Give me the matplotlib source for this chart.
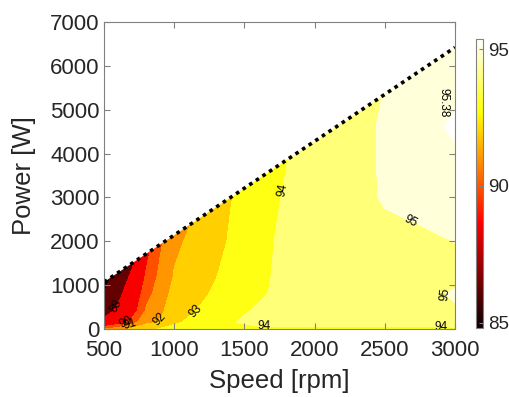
import numpy as np
import matplotlib.pyplot as plt
from matplotlib.patches import Polygon
from matplotlib.colors import Normalize
from matplotlib.cm import ScalarMappable

plt.rcParams['font.family'] = ['Liberation Sans', 'DejaVu Sans']

# grid (speed in rpm, power in W)
speed = [500, 600, 700, 800, 900, 1000, 1200, 1400, 1600, 1800, 2000, 2500, 3000]
power = [0, 150, 400, 800, 1200, 2000, 3000, 4000, 4600, 5200, 6500]

# efficiency [%], one list per speed, values along power
eff_by_speed = [
    [91.0, 88.4, 87.5, 86.6, 85.6, 85.0, 85.0, 85.0, 85.0, 85.0, 85.0],
    [91.5, 89.3, 88.3, 87.6, 87.3, 86.2, 85.5, 85.2, 85.0, 85.0, 85.0],
    [92.2, 90.5, 89.4, 88.9, 88.2, 87.2, 86.4, 85.8, 85.5, 85.3, 85.0],
    [92.6, 91.8, 91.15, 90.6, 90.15, 89.4, 88.5, 87.8, 87.4, 87.0, 86.5],
    [93.1, 92.1, 91.8, 91.5, 91.25, 90.8, 90.0, 89.4, 89.0, 88.7, 88.0],
    [93.3, 92.85, 92.55, 92.3, 92.05, 91.85, 91.2, 90.8, 90.5, 90.2, 89.6],
    [93.6, 93.4, 93.15, 92.85, 92.6, 92.3, 92.0, 91.7, 91.5, 91.3, 91.0],
    [93.7, 93.9, 93.7, 93.5, 93.35, 93.1, 92.95, 92.8, 92.7, 92.6, 92.4],
    [93.7, 94.4, 94.15, 93.85, 93.8, 93.75, 93.6, 93.5, 93.45, 93.4, 93.3],
    [93.7, 94.5, 94.4, 94.3, 94.25, 94.2, 94.1, 93.95, 93.9, 93.85, 93.8],
    [93.7, 94.6, 94.55, 94.5, 94.5, 94.5, 94.55, 94.65, 94.65, 94.65, 94.6],
    [93.7, 94.6, 94.65, 94.7, 94.75, 94.85, 95.05, 95.05, 95.05, 95.02, 94.95],
    [93.7, 94.7, 94.95, 95.05, 94.9, 95.005, 95.25, 95.33, 95.44, 95.33, 95.2],
]

# max power line
speed_limit = [500, 3000]
power_limit = [1070, 6420]

levels = [84.8, 86.5, 88, 90, 91, 92, 93, 94, 95, 95.38, 96]
band_colors = ['#0a0000', '#640000', '#f80000', '#ff5000', '#ff9600', '#ffcf00',
               '#ffff14', '#ffff78', '#ffffd9', '#ffffff']
label_levels = [88, 90, 91, 92, 93, 94, 95]
label_pos = [(593, 510), (650, 180), (690, 70), (900, 200), (1160, 365),
             (1754, 3170), (1640, 60), (2900, 60), (2660, 2300), (2904, 736)]
peak_label = '95.38'
peak_pos = (2915, 5150)

S, P = np.meshgrid(speed, power)
E = np.array(eff_by_speed).T

fig = plt.figure(figsize=(5.09, 3.97), dpi=100)
ax = fig.add_axes([0.2043, 0.1713, 0.6896, 0.7733])

cs = ax.contourf(S, P, E, levels=levels, colors=band_colors)
clip = Polygon([(speed_limit[0], 0), (speed_limit[0], power_limit[0]),
                (speed_limit[1], power_limit[1]), (speed_limit[1], 0)],
               closed=True, transform=ax.transData)
cs.set_clip_path(clip)

cl = ax.contour(S, P, E, levels=label_levels, colors='none')
ax.clabel(cl, manual=label_pos, colors='k', fontsize=8.5,
          fmt=lambda v: f'{v:g}', inline=True)
ax.text(*peak_pos, peak_label, rotation=-90, fontsize=8.5,
        ha='center', va='center')

ax.plot(speed_limit, power_limit, color='k', lw=2.6, linestyle=(0, (1, 1.2)))

ax.set_xlim(500, 3000)
ax.set_ylim(0, 7000)
ax.set_xticks(range(500, 3001, 500))
ax.set_yticks(range(0, 7001, 1000))
ax.tick_params(direction='in', length=4, labelsize=16, colors='0.5',
               labelcolor='#262626', top=True, right=True)
ax.tick_params(axis='x', pad=8)
ax.tick_params(axis='y', pad=3)
for sp in ax.spines.values():
    sp.set_color('0.5')
ax.set_xlabel('Speed [rpm]', fontsize=18.5, color='#262626', labelpad=6)
ax.set_ylabel('Power [W]', fontsize=18.5, color='#262626', labelpad=10)

cax = fig.add_axes([0.935, 0.1738, 0.0138, 0.728])
sm = ScalarMappable(norm=Normalize(84.8, 95.38), cmap='hot')
cb = fig.colorbar(sm, cax=cax, ticks=[85, 90, 95])
cb.outline.set_edgecolor('0.5')
cax.tick_params(direction='in', length=3, labelsize=13.5, colors='0.5',
                labelcolor='#262626', pad=4)

fig.savefig('out.png', dpi=100)
